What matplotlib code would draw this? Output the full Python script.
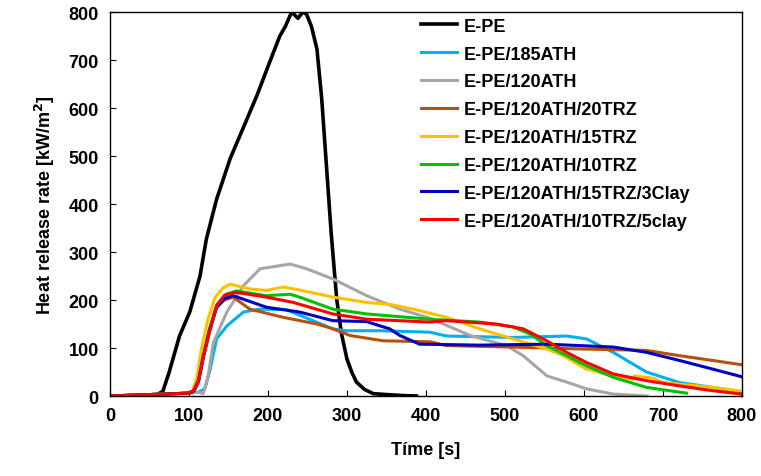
import numpy as np
import matplotlib
matplotlib.use("Agg")
import matplotlib.pyplot as plt

plt.rcParams['font.family'] = ['Liberation Sans', 'DejaVu Sans']
plt.rcParams['font.weight'] = 'bold'

# E-PE
t_epe = [0, 30, 60, 67, 75, 88, 101, 114, 122, 135, 152, 168, 186, 202, 215, 222, 230, 238,
         244, 249, 255, 262, 268, 274, 280, 287, 293, 300, 306, 312, 322, 333, 350, 370, 388]
q_epe = [0, 1, 3, 10, 50, 125, 175, 250, 327, 410, 494, 556, 626, 695, 750, 770, 800, 787,
         800, 795, 770, 723, 620, 480, 340, 202, 130, 77, 50, 29, 14, 5, 3, 1, 0]

# E-PE/185ATH
t_185 = [0, 50, 100, 112, 120, 126, 135, 148, 169, 190, 223, 282, 299, 342, 405, 426,
         510, 578, 603, 637, 679, 721, 763, 800]
q_185 = [0, 3, 6, 8, 15, 50, 119, 146, 175, 181, 180, 140, 136, 136, 133, 125,
         122, 125, 119, 91, 50, 28, 18, 8]

# E-PE/120ATH
t_120 = [0, 50, 100, 112, 118, 124, 131, 148, 169, 190, 228, 249, 282, 325, 367, 405,
         456, 502, 523, 553, 578, 603, 637, 680]
q_120 = [0, 3, 6, 8, 5, 40, 112, 175, 230, 265, 275, 265, 244, 209, 181, 162,
         126, 105, 84, 42, 29, 15, 4, 0]

# E-PE/120ATH/20TRZ
t_20trz = [0, 50, 100, 106, 112, 118, 126, 135, 145, 156, 177, 219, 262, 282, 304, 346,
           405, 426, 510, 595, 679, 721, 763, 800]
q_20trz = [0, 3, 6, 10, 30, 80, 140, 185, 200, 206, 181, 164, 150, 140, 126, 115,
           113, 105, 102, 98, 95, 84, 74, 65]

# E-PE/120ATH/15TRZ
t_15trz = [0, 50, 100, 105, 110, 116, 124, 133, 143, 152, 177, 198, 219, 240, 282, 325,
           354, 384, 426, 468, 510, 553, 574, 603, 637, 662, 664, 688, 700, 763, 800]
q_15trz = [0, 3, 6, 12, 40, 100, 160, 205, 225, 233, 223, 220, 227, 221, 206, 195,
           191, 181, 164, 140, 119, 98, 84, 56, 42, 35, 42, 37, 28, 18, 10]

# E-PE/120ATH/10TRZ
t_10trz = [0, 50, 100, 106, 112, 118, 126, 135, 147, 160, 198, 228, 240, 282, 325, 405,
           468, 510, 532, 553, 578, 603, 637, 679, 721, 730]
q_10trz = [0, 3, 6, 10, 35, 85, 140, 190, 212, 219, 209, 212, 206, 181, 171, 160,
           154, 144, 129, 105, 84, 63, 39, 18, 8, 6]

# E-PE/120ATH/15TRZ/3Clay
t_3clay = [0, 50, 100, 106, 112, 118, 126, 135, 145, 156, 198, 240, 282, 325, 342, 354,
           367, 392, 468, 553, 637, 679, 721, 763, 800]
q_3clay = [0, 3, 6, 10, 30, 80, 135, 185, 203, 209, 185, 175, 157, 155, 146, 140,
           126, 108, 106, 108, 102, 91, 74, 56, 40]

# E-PE/120ATH/10TRZ/5clay
t_5clay = [0, 50, 100, 105, 112, 118, 126, 135, 145, 160, 198, 232, 282, 325, 405, 426,
           489, 523, 553, 578, 603, 637, 679, 721, 763, 800]
q_5clay = [0, 3, 6, 10, 30, 80, 133, 188, 210, 216, 206, 195, 171, 160, 154, 157,
           150, 140, 115, 91, 70, 46, 32, 21, 11, 4]

series = [
    ("E-PE", t_epe, q_epe, "#000000"),
    ("E-PE/185ATH", t_185, q_185, "#00b0f0"),
    ("E-PE/120ATH", t_120, q_120, "#a6a6a6"),
    ("E-PE/120ATH/20TRZ", t_20trz, q_20trz, "#b5520f"),
    ("E-PE/120ATH/15TRZ", t_15trz, q_15trz, "#ffc000"),
    ("E-PE/120ATH/10TRZ", t_10trz, q_10trz, "#00c000"),
    ("E-PE/120ATH/15TRZ/3Clay", t_3clay, q_3clay, "#0000c0"),
    ("E-PE/120ATH/10TRZ/5clay", t_5clay, q_5clay, "#ff0000"),
]

fig = plt.figure(figsize=(7.61, 4.77), dpi=100)
ax = fig.add_axes([0.1445, 0.1677, 0.8305, 0.805])

for name, t, q, c in series:
    lw = 2.6 if name == "E-PE" else 2.2
    ax.plot(t, q, color=c, lw=lw, label=name)

ax.set_xlim(0, 800)
ax.set_ylim(0, 800)
ax.set_xticks(np.arange(0, 801, 100))
ax.set_yticks(np.arange(0, 801, 100))
ax.tick_params(direction='in', length=4, labelsize=13, pad=8)
for lab in ax.get_xticklabels() + ax.get_yticklabels():
    lab.set_fontweight('bold')
for s in ax.spines.values():
    s.set_linewidth(1.0)

ax.set_xlabel("Tíme [s]", fontsize=13, fontweight='bold', labelpad=12)
ax.set_ylabel("Heat release rate [kW/m$^{\\mathbf{2}}$]", fontsize=13, fontweight='bold', labelpad=8)

leg = ax.legend(loc='upper left', bbox_to_anchor=(0.492, 0.985), frameon=False,
                fontsize=13, handlelength=2.0, handletextpad=0.4, labelspacing=0.6,
                borderpad=0, borderaxespad=0)
for txt in leg.get_texts():
    txt.set_fontweight('bold')

fig.savefig("out.png", dpi=100)
